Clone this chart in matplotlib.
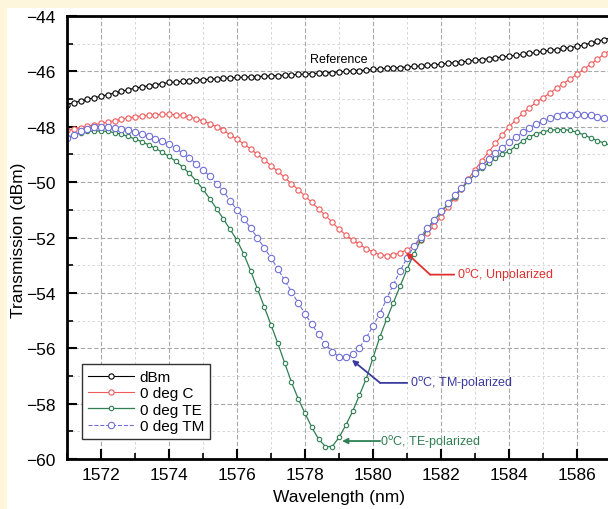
import numpy as np
import matplotlib.pyplot as plt
from matplotlib.patches import Rectangle
from matplotlib.ticker import MultipleLocator

# wavelength grid (nm), 0.2 nm step
wavelength = np.round(np.arange(1571.0, 1587.01, 0.2), 1)

ref_dbm = [
    -47.20, -47.13, -47.07, -47.01, -46.95, -46.90, -46.84, -46.78, -46.72, -46.66,
    -46.60, -46.56, -46.52, -46.48, -46.44, -46.40, -46.38, -46.36, -46.34, -46.32,
    -46.30, -46.28, -46.27, -46.25, -46.24, -46.22, -46.21, -46.20, -46.19, -46.17,
    -46.16, -46.15, -46.14, -46.12, -46.11, -46.10, -46.08, -46.07, -46.05, -46.04,
    -46.02, -46.00, -45.98, -45.97, -45.95, -45.93, -45.91, -45.89, -45.88, -45.86,
    -45.84, -45.82, -45.80, -45.78, -45.76, -45.74, -45.71, -45.68, -45.66, -45.63,
    -45.60, -45.57, -45.54, -45.51, -45.48, -45.45, -45.42, -45.38, -45.35, -45.31,
    -45.28, -45.24, -45.21, -45.17, -45.14, -45.10, -45.04, -44.98, -44.91, -44.85,
    -44.78]

c_unpol = [
    -48.13, -48.08, -48.03, -47.98, -47.93, -47.88, -47.83, -47.78, -47.73, -47.68,
    -47.64, -47.61, -47.58, -47.56, -47.55, -47.55, -47.56, -47.59, -47.64, -47.71,
    -47.79, -47.89, -48.00, -48.13, -48.29, -48.45, -48.62, -48.80, -49.00, -49.20,
    -49.40, -49.61, -49.83, -50.05, -50.27, -50.50, -50.73, -50.97, -51.20, -51.45,
    -51.70, -51.90, -52.09, -52.25, -52.40, -52.52, -52.62, -52.65, -52.62, -52.55,
    -52.44, -52.30, -52.10, -51.85, -51.57, -51.25, -50.91, -50.57, -50.23, -49.89,
    -49.55, -49.23, -48.91, -48.60, -48.29, -48.00, -47.75, -47.52, -47.31, -47.12,
    -46.95, -46.78, -46.61, -46.44, -46.27, -46.10, -45.92, -45.74, -45.56, -45.38,
    -45.20]

te_pol = [
    -48.40, -48.30, -48.22, -48.17, -48.15, -48.15, -48.17, -48.21, -48.27, -48.35,
    -48.44, -48.54, -48.65, -48.78, -48.92, -49.07, -49.25, -49.45, -49.68, -49.95,
    -50.26, -50.60, -50.96, -51.33, -51.71, -52.10, -52.60, -53.20, -53.85, -54.50,
    -55.15, -55.82, -56.52, -57.22, -57.82, -58.35, -58.85, -59.28, -59.55, -59.55,
    -59.22, -58.78, -58.28, -57.70, -57.10, -56.35, -55.60, -54.95, -54.35, -53.75,
    -53.15, -52.60, -52.10, -51.70, -51.38, -51.08, -50.80, -50.52, -50.24, -49.97,
    -49.72, -49.48, -49.30, -49.14, -49.00, -48.88, -48.70, -48.52, -48.36, -48.26,
    -48.18, -48.13, -48.10, -48.10, -48.13, -48.20, -48.29, -48.40, -48.50, -48.59,
    -48.68]

tm_pol = [
    -48.40, -48.28, -48.17, -48.08, -48.02, -48.00, -48.01, -48.04, -48.08, -48.13,
    -48.19, -48.26, -48.34, -48.43, -48.53, -48.63, -48.78, -48.95, -49.13, -49.33,
    -49.55, -49.79, -50.05, -50.33, -50.67, -51.00, -51.32, -51.66, -52.01, -52.37,
    -52.73, -53.13, -53.54, -53.95, -54.36, -54.75, -55.13, -55.50, -55.85, -56.12,
    -56.30, -56.33, -56.22, -55.98, -55.62, -55.20, -54.75, -54.22, -53.70, -53.20,
    -52.74, -52.32, -51.97, -51.65, -51.35, -51.05, -50.76, -50.48, -50.21, -49.94,
    -49.68, -49.42, -49.18, -48.96, -48.75, -48.56, -48.38, -48.20, -48.04, -47.90,
    -47.78, -47.69, -47.62, -47.58, -47.56, -47.55, -47.56, -47.59, -47.63, -47.69,
    -47.75]

series_labels = ["dBm", "0 deg C", "0 deg TE", "0 deg TM"]
x_ticks = [1572, 1574, 1576, 1578, 1580, 1582, 1584, 1586]
y_ticks = [-60, -58, -56, -54, -52, -50, -48, -46, -44]

# callouts: text, text anchor, elbow, arrow tip, colour
callouts = [
    (r"0$^{\rm o}$C, Unpolarized", (1582.47, -53.34), (1581.68, -53.34), (1580.97, -52.54), "#e03030"),
    (r"0$^{\rm o}$C, TM-polarized", (1581.09, -57.25), (1580.21, -57.25), (1579.38, -56.42), "#3a3aa0"),
    (r"0$^{\rm o}$C, TE-polarized", (1580.21, -59.35), (1580.21, -59.35), (1579.09, -59.35), "#2f7f52"),
]

plt.rcParams['font.family'] = ['Liberation Sans', 'DejaVu Sans']

fig = plt.figure(figsize=(6.08, 5.10), dpi=100)
fig.patch.set_facecolor("white")
cream = "#fdf6dc"
fig.patches.append(Rectangle((0, 0.982), 1, 0.018, transform=fig.transFigure,
                             facecolor=cream, edgecolor="none", zorder=0))
fig.patches.append(Rectangle((0, 0), 0.0115, 1, transform=fig.transFigure,
                             facecolor=cream, edgecolor="none", zorder=0))

ax = fig.add_axes([0.1102, 0.098, 0.8947, 0.8686])

ax.plot(wavelength, ref_dbm, color="black", lw=0.8, marker="o", ms=3.8,
        mfc="white", mew=0.8, label=series_labels[0])
ax.plot(wavelength, c_unpol, color="#f05a5a", lw=0.8, marker="o", ms=3.8,
        mfc="white", mew=0.8, label=series_labels[1])
ax.plot(wavelength, te_pol, color="#2f7f52", lw=0.9, marker="o", ms=3.2,
        mfc="white", mew=0.8, label=series_labels[2])
ax.plot(wavelength, tm_pol, color="#6f6fd6", lw=0.8, ls="--", marker="o", ms=4.6,
        mfc="white", mew=0.8, label=series_labels[3])

ax.set_xlim(1571, 1587)
ax.set_ylim(-60, -44)
ax.set_xticks(x_ticks)
ax.set_yticks(y_ticks)
ax.xaxis.set_minor_locator(MultipleLocator(1))
ax.yaxis.set_minor_locator(MultipleLocator(1))
ax.tick_params(which="major", direction="in", length=7, width=1.5, labelsize=12.5,
               top=False, right=False)
ax.tick_params(which="minor", direction="in", length=4, width=1.2, top=False, right=False)
ax.tick_params(axis="y", pad=8)
ax.tick_params(axis="x", pad=6)

ax.grid(True, which="major", color="#a8a8a8", ls=(0, (4, 2)), lw=0.8)
ax.grid(True, which="minor", color="#d0d0d0", ls=(0, (3, 3)), lw=0.6)
ax.set_axisbelow(True)

for side in ["left", "bottom", "top"]:
    ax.spines[side].set_linewidth(2)
ax.spines["right"].set_visible(False)

ax.set_xlabel("Wavelength (nm)", fontsize=12.5)
ax.set_ylabel("Transmission (dBm)", fontsize=12.5)
ax.xaxis.set_label_coords(0.5, -0.068)
ax.yaxis.set_label_coords(-0.076, 0.497)

ax.text(1579.0, -45.56, "Reference", fontsize=9, ha="center", va="center")

ax.legend(loc="lower left", bbox_to_anchor=(0.027, 0.045), borderaxespad=0,
          fontsize=11, handlelength=3.0, handletextpad=0.4, labelspacing=0.15,
          frameon=True, fancybox=False, edgecolor="#333333", framealpha=1)

for text, txt_xy, elbow, tip, col in callouts:
    ax.annotate(text, xy=elbow, xytext=txt_xy, fontsize=9, color=col,
                va="center", ha="left",
                arrowprops=dict(arrowstyle="-", color=col, lw=1.3,
                                shrinkA=0, shrinkB=0, relpos=(0, 0.5)))
    ax.annotate("", xy=tip, xytext=elbow,
                arrowprops=dict(arrowstyle="-|>", color=col, lw=1.3,
                                shrinkA=0, shrinkB=0, mutation_scale=8))

fig.savefig("out.png", dpi=100)
